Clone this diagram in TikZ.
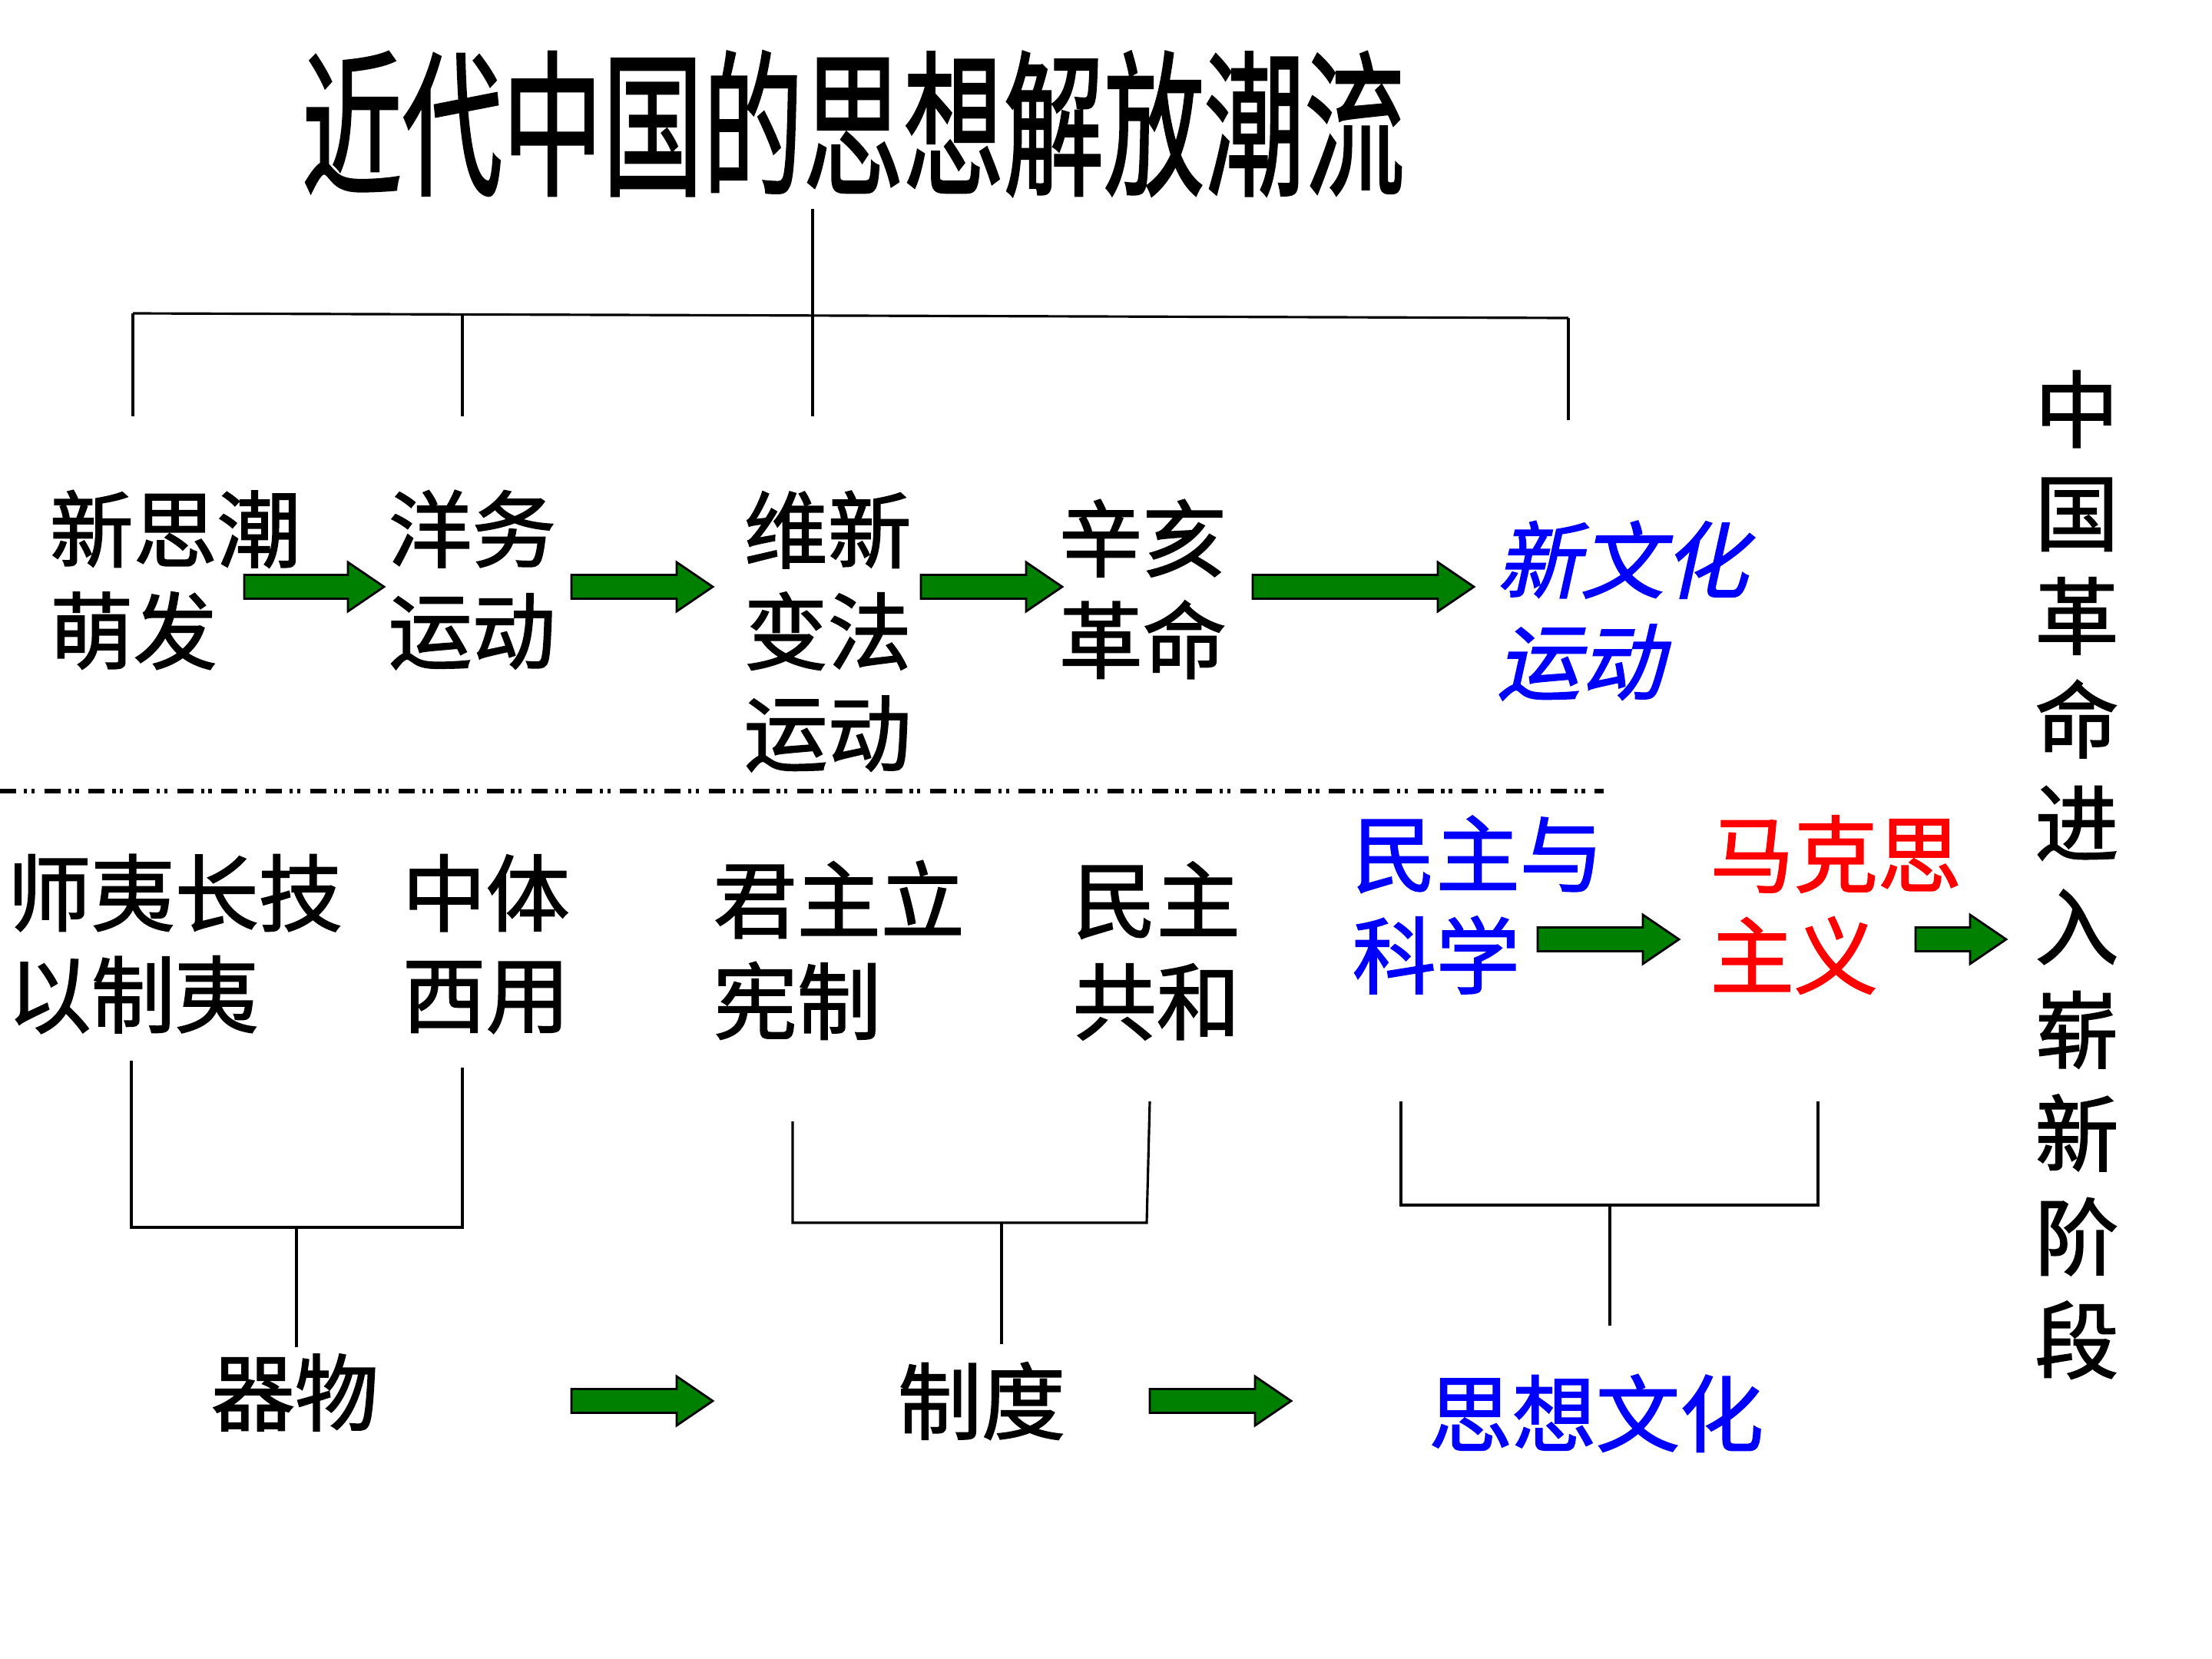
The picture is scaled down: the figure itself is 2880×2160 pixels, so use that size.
\documentclass[tikz,border=0pt]{standalone}
\usepackage{fontspec}
\newfontfamily\cjk[FakeBold=1.6]{Noto Sans CJK SC}
\newfontfamily\cjkit[FakeSlant=0.22,FakeBold=1.6]{Noto Sans CJK SC}
\usetikzlibrary{calc}

\definecolor{freccia}{RGB}{0,128,0}

\tikzset{
  testo/.style={inner sep=0pt, align=left, font=\cjk\fontsize{31}{37.6}\selectfont},
  linea/.style={line width=0.9pt},
  frecciona/.style={draw=black, line width=0.8pt, fill=freccia, line join=miter}
}

% freccia verde piena tra due coordinate
\newcommand{\frecciaverde}[2]{%
  \draw[frecciona] ($(#1)+(0,-15.5)$) -- ($(#2)+(-47,-15.5)$) -- ($(#2)+(-47,-32)$)
    -- (#2) -- ($(#2)+(-47,32)$) -- ($(#2)+(-47,15.5)$) -- ($(#1)+(0,15.5)$) -- cycle;}

\begin{document}
\begin{tikzpicture}[x=0.01cm,y=-0.01cm]
    \useasboundingbox[fill=white] (0,0) rectangle (2880,2160);

    % titolo
    \node[inner sep=0pt, font=\cjk\fontsize{58}{66}\selectfont] (titolo) at (1111,161)
      {\scalebox{0.64}[1]{近代中国的思想解放潮流}};

    % albero in alto
    \coordinate (bus1) at (173,408);
    \coordinate (bus2) at (2042,414);
    \draw[linea] (1058,272) -- (1058,542);
    \draw[linea] (bus1) -- (bus2);
    \draw[linea] (bus1) -- (173,542);
    \draw[linea] (602,409) -- (602,542);
    \draw[linea] (bus2) -- (2042,547);

    % prima riga
    \node[testo, anchor=west] (xsc) at (64,755) {新思潮\\萌发};
    \node[testo, anchor=west] (ywu) at (505,755) {洋务\\运动};
    \node[testo, anchor=west] (wxb) at (968,822) {维新\\变法\\运动};
    \node[testo, anchor=west] (xhg) at (1378,767) {辛亥\\革命};
    \node[testo, anchor=west, text=blue, font=\cjkit\fontsize{31}{37.6}\selectfont] (xwh) at (1948,795) {新文化\\运动};

    \coordinate (a1) at (318,764);   \coordinate (b1) at (500,764);
    \coordinate (a2) at (744,764);   \coordinate (b2) at (928,764);
    \coordinate (a3) at (1199,764);  \coordinate (b3) at (1383,764);
    \coordinate (a4) at (1631,764);  \coordinate (b4) at (1919,764);
    \frecciaverde{a1}{b1}
    \frecciaverde{a2}{b2}
    \frecciaverde{a3}{b3}
    \frecciaverde{a4}{b4}

    % linea tratteggiata
    \draw[line width=1.5pt, dash pattern=on 6pt off 2.8pt on 1.2pt off 1.6pt on 1.2pt off 3.6pt] (0,1030) -- (2088,1030);

    % seconda riga
    \node[testo, anchor=west] (syc) at (9,1229) {师夷长技\\以制夷};
    \node[testo, anchor=west] (ztx) at (523,1229) {中体\\西用};
    \node[testo, anchor=west] (jzl) at (928,1237) {君主立\\宪制};
    \node[testo, anchor=west] (mzg) at (1396,1238) {民主\\共和};
    \node[testo, anchor=west, text=blue] (mzk) at (1760,1178) {民主与\\科学};
    \node[testo, anchor=west, text=red] (mks) at (2226,1178) {马克思\\主义};

    \coordinate (a5) at (2002,1223); \coordinate (b5) at (2186,1223);
    \coordinate (a6) at (2494,1223); \coordinate (b6) at (2612,1223);
    \frecciaverde{a5}{b5}
    \frecciaverde{a6}{b6}

    % colonna a destra
    \node[testo, align=center, font=\cjk\fontsize{31}{38.3}\selectfont] (fase) at (2704,1139)
      {中\\国\\革\\命\\进\\入\\崭\\新\\阶\\段};

    % parentesi in basso
    \draw[linea] (171,1381) -- (171,1598) -- (602,1598) -- (602,1390);
    \draw[linea] (386,1598) -- (386,1754);
    \draw[linea] (1032,1460) -- (1032,1592) -- (1493,1592) -- (1497,1434);
    \draw[linea] (1304,1592) -- (1304,1750);
    \draw[linea] (1824,1434) -- (1824,1569) -- (2367,1569) -- (2367,1434);
    \draw[linea] (2096,1569) -- (2096,1726);

    % ultima riga
    \node[testo] (qwu) at (384,1813) {器物};
    \node[testo] (zdu) at (1278,1824) {制度};
    \node[testo, text=blue] (sxw) at (2078,1840) {思想文化};

    \coordinate (a7) at (744,1824);  \coordinate (b7) at (928,1824);
    \coordinate (a8) at (1497,1824); \coordinate (b8) at (1681,1824);
    \frecciaverde{a7}{b7}
    \frecciaverde{a8}{b8}
\end{tikzpicture}
\end{document}
